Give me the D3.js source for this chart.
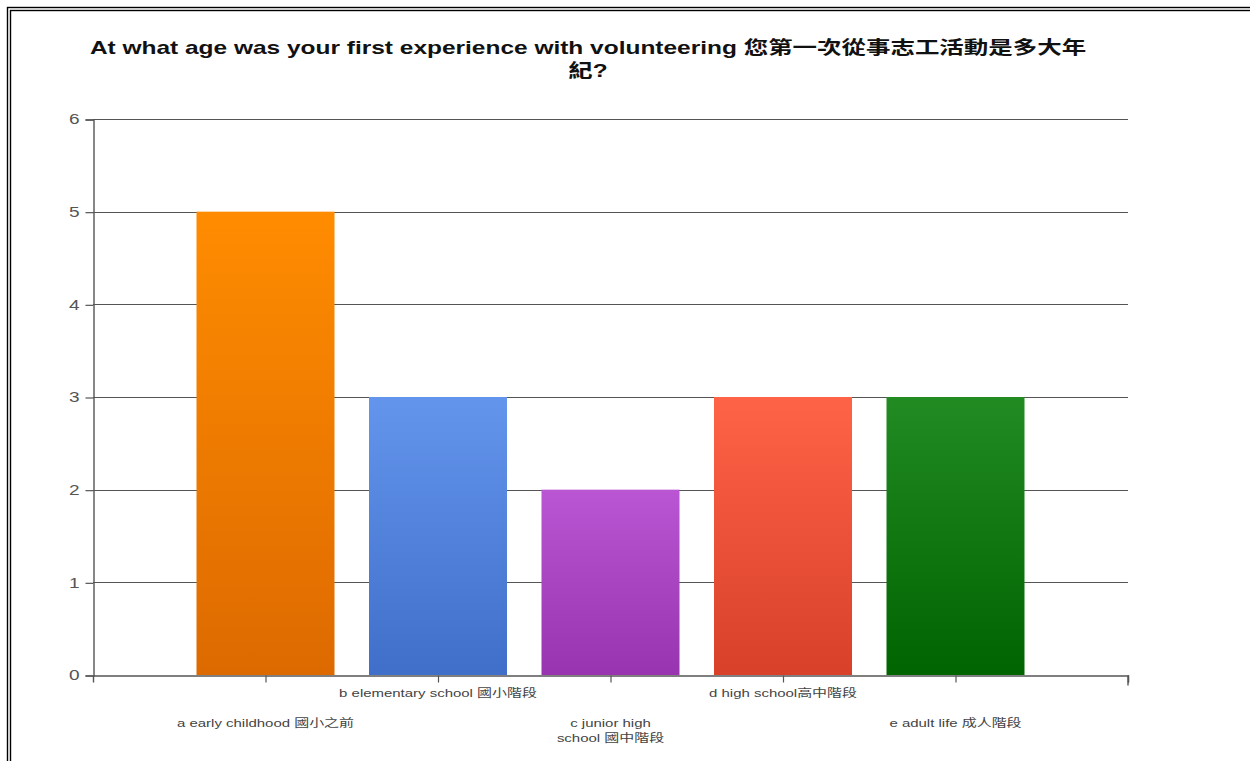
<!DOCTYPE html>
<html>
<head>
<meta charset="utf-8">
<script src="https://cdn.jsdelivr.net/npm/d3@7"></script>
<style>
  html, body { margin: 0; padding: 0; background: #fff; }
  svg { display: block; }
</style>
</head>
<body>
<svg id="chart" width="1250" height="761"></svg>
<script>
// Survey answers: age at first volunteering experience
const categories = [
  "a early childhood 國小之前",
  "b elementary school 國小階段",
  "c junior high\nschool 國中階段",
  "d high school高中階段",
  "e adult life 成人階段"
];
const counts = [5, 3, 2, 3, 3];
const yTicks = [0, 1, 2, 3, 4, 5, 6];
const titleLines = [
  "At what age was your first experience with volunteering 您第一次從事志工活動是多大年",
  "紀?"
];
// top / bottom colours of each bar's vertical gradient
const topColors = ["#ff8c00", "#6495ed", "#ba55d3", "#ff6347", "#228b22"];
const bottomColors = ["#dd6a00", "#3f6fc8", "#9934b0", "#d8402a", "#006400"];

const svg = d3.select("#chart");
const W = 1250, H = 761;
const plot = { left: 93, right: 1128, top: 119, bottom: 675 };
const FONT = "'Liberation Sans', Arial, 'Noto Sans CJK TC', sans-serif";
const STRETCH = 1.36; // text is drawn horizontally widened

// double frame around the page
[7.5, 10.5].forEach(o => {
  svg.append("rect")
    .attr("x", o).attr("y", o)
    .attr("width", W + 20).attr("height", H + 20)
    .attr("fill", "none").attr("stroke", "#000").attr("stroke-width", 1.4);
});

// title
svg.append("g")
  .attr("transform", `translate(588,0) scale(${STRETCH},1)`)
  .append("text")
  .attr("x", 0).attr("y", 54)
  .attr("text-anchor", "middle")
  .attr("font-family", FONT)
  .attr("font-weight", "bold")
  .attr("font-size", 18)
  .attr("fill", "#111")
  .selectAll("tspan").data(titleLines).join("tspan")
  .attr("x", 0)
  .attr("dy", (d, i) => i === 0 ? 0 : 23)
  .text(d => d);

// scales: categories sit on ticks 1..5 of a 0..6 position axis
const x = d3.scaleLinear().domain([0, categories.length + 1]).range([plot.left, plot.right]);
const step = x(1) - x(0);
const barW = step * 0.8;
const y = d3.scaleLinear().domain([0, 6]).range([plot.bottom, plot.top]);

// gradients
const defs = svg.append("defs");
categories.forEach((c, i) => {
  const g = defs.append("linearGradient")
    .attr("id", "grad" + i)
    .attr("x1", 0).attr("y1", 0).attr("x2", 0).attr("y2", 1);
  g.append("stop").attr("offset", "0%").attr("stop-color", topColors[i]);
  g.append("stop").attr("offset", "100%").attr("stop-color", bottomColors[i]);
});

// horizontal gridlines
svg.append("g")
  .selectAll("line").data(yTicks.filter(t => t > 0)).join("line")
  .attr("x1", plot.left).attr("x2", plot.right)
  .attr("y1", d => Math.round(y(d)) + 0.5).attr("y2", d => Math.round(y(d)) + 0.5)
  .attr("stroke", "#555").attr("stroke-width", 1.2);

// bars
svg.append("g")
  .selectAll("rect").data(counts).join("rect")
  .attr("x", (d, i) => x(i + 1) - barW / 2)
  .attr("width", barW)
  .attr("y", d => y(d))
  .attr("height", d => y(0) - y(d))
  .attr("fill", (d, i) => `url(#grad${i})`);

// y axis
const yAxis = d3.axisLeft(y).tickValues(yTicks).tickFormat(d3.format("d")).tickSize(8).tickPadding(0);
const gy = svg.append("g")
  .attr("transform", `translate(${plot.left + 0.5},0.5)`)
  .call(yAxis);
gy.select(".domain").attr("stroke", "#555").attr("stroke-width", 1.4);
gy.selectAll(".tick line").attr("stroke", "#555").attr("stroke-width", 1.2);
gy.selectAll(".tick text")
  .attr("font-family", FONT).attr("font-size", 14).attr("fill", "#555")
  .attr("x", 0)
  .attr("transform", `translate(-14,0) scale(${STRETCH},1)`);

// x axis
const xTickVals = d3.range(0, categories.length + 2);
const xAxis = d3.axisBottom(x).tickValues(xTickVals).tickFormat("").tickSizeOuter(0).tickSize(7);
const gx = svg.append("g")
  .attr("transform", `translate(0,${Math.round(y(0)) + 0.5})`)
  .call(xAxis);
gx.select(".domain").attr("stroke", "#555").attr("stroke-width", 1.4);
gx.selectAll(".tick line").attr("stroke", "#555").attr("stroke-width", 1.2);
gx.selectAll(".tick").filter(d => d === 0).remove();
// right end tick
gx.append("line")
  .attr("x1", x(categories.length + 1)).attr("x2", x(categories.length + 1))
  .attr("y1", 0).attr("y2", 10)
  .attr("stroke", "#555").attr("stroke-width", 1.4);

// staggered category labels
const lab = svg.append("g")
  .attr("font-family", FONT).attr("font-size", 11).attr("fill", "#444")
  .attr("text-anchor", "middle");
categories.forEach((c, i) => {
  const baseY = i % 2 === 1 ? 697 : 727;
  const t = lab.append("g")
    .attr("transform", `translate(${x(i + 1)},${baseY}) scale(${STRETCH},1)`)
    .append("text").attr("x", 0).attr("y", 0);
  c.split("\n").forEach((line, k) => {
    t.append("tspan").attr("x", 0).attr("dy", k === 0 ? 0 : 15).text(line);
  });
});
</script>
</body>
</html>
